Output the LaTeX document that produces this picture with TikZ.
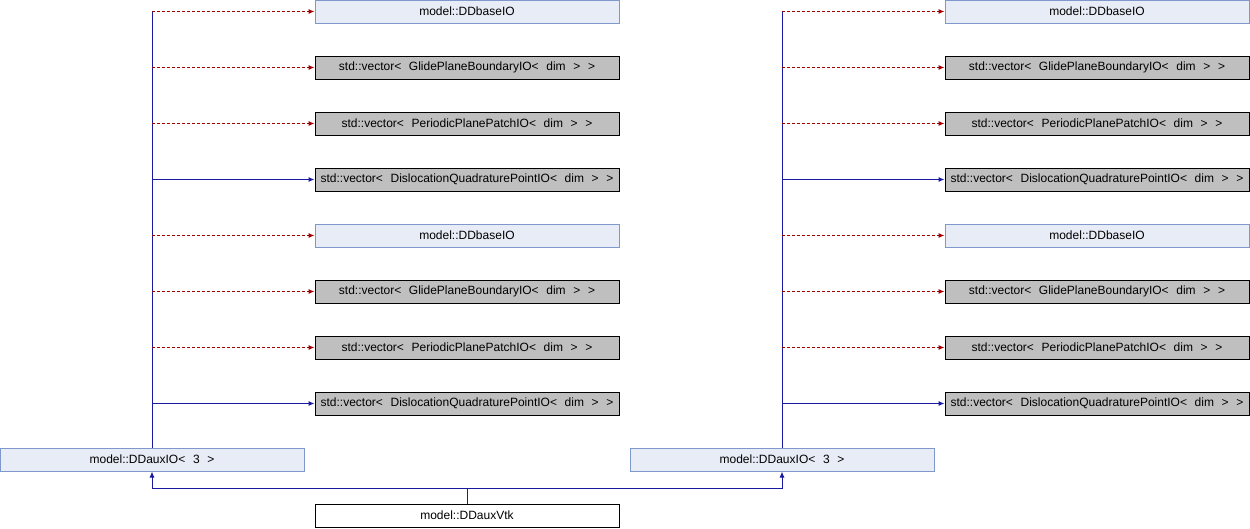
\documentclass[tikz,border=0pt]{standalone}
\usepackage{fontspec}
\setmainfont{Liberation Sans}
\newfontfamily\dxfont[WordSpace=2.3]{Liberation Sans}
\usetikzlibrary{arrows.meta}
\definecolor{edgeblue}{HTML}{1A1AA0}
\definecolor{edgered}{HTML}{A00000}
\definecolor{boxfill}{HTML}{E8ECF6}
\definecolor{boxline}{HTML}{7F98CC}
\definecolor{extfill}{HTML}{BFBFBF}
\tikzset{
  base/.style={line width=1pt, minimum width=304pt, minimum height=23pt,
    inner sep=0pt, font=\dxfont\fontsize{12}{14}\selectfont},
  cls/.style={base, draw=boxline, fill=boxfill},
  ext/.style={base, draw=black, fill=extfill},
  leaf/.style={base, draw=black, fill=white},
  inherit/.style={draw=edgeblue, line width=1pt, -{Latex[length=6pt,width=5pt]}},
  uses/.style={draw=edgered, line width=1pt, dash pattern=on 3pt off 2pt, -{Latex[length=6pt,width=5pt]}},
  plainedge/.style={draw=edgeblue, line width=1pt},
}
\begin{document}
\begin{tikzpicture}[x=1pt,y=-1pt]
\useasboundingbox (0,0) rectangle (1250,528);

% two inheritance trees, one per base DDauxIO< 3 >
\foreach \side/\bx/\vx in {L/467/152, R/1097/782} {
  \node[cls] (\side1) at (\bx,11.5) {model::DDbaseIO};
  \node[ext] (\side2) at (\bx,67.5) {std::vector< GlidePlaneBoundaryIO< dim > >};
  \node[ext] (\side3) at (\bx,123.5) {std::vector< PeriodicPlanePatchIO< dim > >};
  \node[ext] (\side4) at (\bx,179.5) {std::vector< DislocationQuadraturePointIO< dim > >};
  \node[cls] (\side5) at (\bx,235.5) {model::DDbaseIO};
  \node[ext] (\side6) at (\bx,291.5) {std::vector< GlidePlaneBoundaryIO< dim > >};
  \node[ext] (\side7) at (\bx,347.5) {std::vector< PeriodicPlanePatchIO< dim > >};
  \node[ext] (\side8) at (\bx,403.5) {std::vector< DislocationQuadraturePointIO< dim > >};
  \node[cls] (\side B) at (\vx,459.5) {model::DDauxIO< 3 >};
  \coordinate (\side T) at (\vx,12);
  \draw[plainedge] (\side B.north) -- (\side T);
  \foreach \k/\kind in {1/uses,2/uses,3/uses,4/inherit,5/uses,6/uses,7/uses,8/inherit} {
    \draw[\kind] (\side B.north |- \side\k.west) -- (\side\k.west);
  }
}

\node[leaf] (V) at (467,515.5) {model::DDauxVtk};
\coordinate (J) at (467,488);
\draw[plainedge] (V.north) -- (J);
\draw[inherit] (J) -| (LB.south);
\draw[inherit] (J) -| (RB.south);
\end{tikzpicture}
\end{document}
